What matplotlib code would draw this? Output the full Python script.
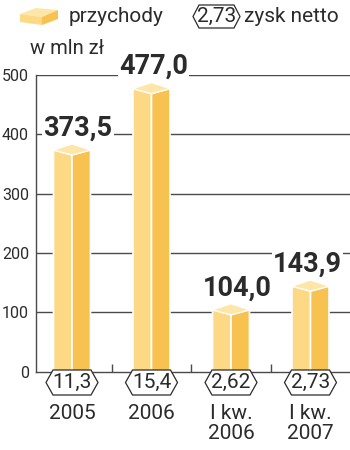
import matplotlib
matplotlib.use('Agg')
import matplotlib.pyplot as plt
from matplotlib.patches import Polygon

categories = ['2005', '2006', 'I kw.\n2006', 'I kw.\n2007']
revenue = [373.5, 477.0, 104.0, 143.9]
revenue_labels = ['373,5', '477,0', '104,0', '143,9']
net_profit = ['11,3', '15,4', '2,62', '2,73']
yticks = [0, 100, 200, 300, 400, 500]

# layout: horizontal nudge (px) of value labels
label_dx = [6, 2, 6, -3]

LIGHT = '#FDD985'
DARK = '#F8C251'
TOP = '#FEE6A8'
TXT = '#2b2b2b'
LINE = '#4a4a4a'

plt.rcParams['font.family'] = ['Roboto', 'DejaVu Sans']

W, H = 350, 450
fig = plt.figure(figsize=(3.5, 4.5), dpi=100)
L, R, B, T = 36, 350, 371.5, 75
ax = fig.add_axes([L / W, (H - B) / H, (R - L) / W, (B - T) / H])
ymax = yticks[-1]
ax.set_ylim(0, ymax)
step, x0 = 79.5, 72
ax.set_xlim((L - x0) / step, (R - x0) / step)
ppy = (B - T) / ymax


def py(p):
    return p / ppy


def pxu(p):
    return p / step


# gridlines
for t in yticks[1:]:
    ax.plot([(L - x0) / step, (R - x0) / step], [t, t], color=LINE, lw=1, zorder=1,
            solid_capstyle='butt')

for s in ['top', 'right']:
    ax.spines[s].set_visible(False)
for s in ['left', 'bottom']:
    ax.spines[s].set_color(LINE)
    ax.spines[s].set_linewidth(1)

ax.set_yticks(yticks)
ax.set_yticklabels([str(t) for t in yticks], fontsize=11.5, color=TXT)
ax.tick_params(axis='y', length=0, pad=5)
ax.set_xticks([i + 0.5 for i in range(len(categories) - 1)])
ax.set_xticklabels([])
ax.tick_params(axis='x', direction='in', length=6, color=LINE, width=1)

hw = pxu(18.5)
for i, v in enumerate(revenue):
    front = v - py(5)
    back = v + py(6)
    ax.add_patch(Polygon([(i - hw, 0), (i, 0), (i, front), (i - hw, v)],
                         closed=True, fc=LIGHT, ec='white', lw=1.2, zorder=3, clip_on=False))
    ax.add_patch(Polygon([(i, 0), (i + hw, 0), (i + hw, v), (i, front)],
                         closed=True, fc=DARK, ec='white', lw=1.2, zorder=3, clip_on=False))
    ax.add_patch(Polygon([(i - hw, v), (i, front), (i + hw, v), (i, back)],
                         closed=True, fc=TOP, ec='white', lw=0.8, zorder=3, clip_on=False))
    ax.text(i + pxu(label_dx[i]), v + py(22), revenue_labels[i], ha='center', va='center',
            fontsize=19.5, fontweight='bold', color=TXT, zorder=5, clip_on=False,
            bbox=dict(fc='white', ec='none', pad=1))


def hexagon(cx, cy, w, h, tip):
    pts = [(cx - w / 2, cy), (cx - w / 2 + tip, cy + h / 2), (cx + w / 2 - tip, cy + h / 2),
           (cx + w / 2, cy), (cx + w / 2 - tip, cy - h / 2), (cx - w / 2 + tip, cy - h / 2)]
    return Polygon(pts, closed=True, fc='white', ec=TXT, lw=0.9, zorder=4, clip_on=False)


hy = -py(382.5 - B)
for i, lab in enumerate(net_profit):
    ax.add_patch(hexagon(i, hy, pxu(52), py(25), pxu(7)))
    ax.text(i, hy, lab, ha='center', va='center', fontsize=15, color=TXT, zorder=5,
            clip_on=False)
    ax.text(i, -py(404 - B), categories[i], ha='center', va='top', fontsize=15,
            color=TXT, linespacing=1.05, clip_on=False)

# legend / header in pixel overlay
ov = fig.add_axes([0, 0, 1, 1], zorder=-1)
ov.set_xlim(0, W)
ov.set_ylim(H, 0)
ov.axis('off')
ov.add_patch(Polygon([(20, 14), (36, 8), (58, 10), (42, 17)], fc=TOP, ec='none'))
ov.add_patch(Polygon([(20, 14), (42, 17), (42, 25), (20, 22)], fc=LIGHT, ec='none'))
ov.add_patch(Polygon([(42, 17), (58, 10), (58, 19), (42, 25)], fc=DARK, ec='none'))
ov.text(69, 16, 'przychody', ha='left', va='center', fontsize=15, color=TXT)
hx = [193, 199, 234, 240, 234, 199]
hyv = [16.5, 5, 5, 16.5, 28, 28]
ov.add_patch(Polygon(list(zip(hx, hyv)), fc='white', ec=TXT, lw=0.9))
ov.text(216.5, 16.5, '2,73', ha='center', va='center', fontsize=15, color=TXT)
ov.text(244, 16, 'zysk netto', ha='left', va='center', fontsize=15, color=TXT)
ov.text(30, 48, 'w mln zł', ha='left', va='center', fontsize=14.5, color=TXT)

fig.savefig('out.png', dpi=100)
